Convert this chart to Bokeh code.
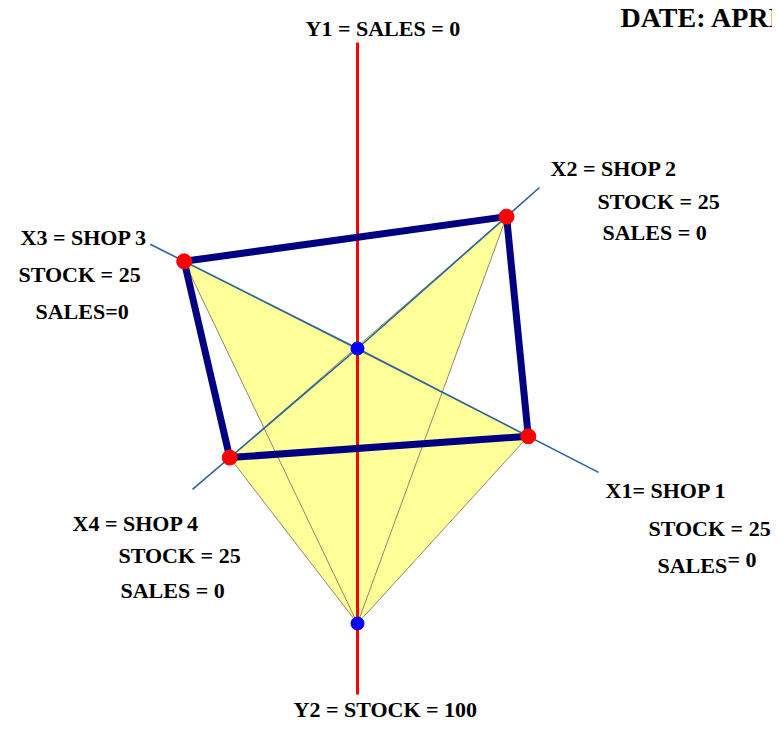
import numpy as np
from bokeh.plotting import figure
from bokeh.models import Range1d
from bokeh.core.properties import value
from bokeh.embed import file_html
from bokeh.resources import INLINE

# ---------------- data ----------------
axis_names = ["X1", "X2", "X3", "X4"]
shops = ["SHOP 1", "SHOP 2", "SHOP 3", "SHOP 4"]
stock = [25, 25, 25, 25]
sales = [0, 0, 0, 0]
y1_name, y1_value = "SALES", 0
y2_name, y2_value = "STOCK", 100
date_text = "DATE: APRIL"

# ---------------- layout ----------------
axis_angle = [-27.2, 41.5, 153.3, 220.5]   # degrees, shop axes
point_r = [192, 199, 194, 168]             # radius of each shop point
axis_end_r = [271, 243, 232, 217]          # length of each thin axis
y2_point_r = 275
y1_len, y2_len = 306, 346

ang = np.radians(axis_angle)
px = np.array(point_r) * np.cos(ang)
py = np.array(point_r) * np.sin(ang)
ex = np.array(axis_end_r) * np.cos(ang)
ey = np.array(axis_end_r) * np.sin(ang)
bx, by = 0.0, -float(y2_point_r)

p = figure(width=772, height=723, output_backend="svg", toolbar_location=None,
           x_range=Range1d(-357, 415), y_range=Range1d(-375, 348),
           x_axis_location=None, y_axis_location=None, min_border=0,
           background_fill_color="white", border_fill_color="white",
           outline_line_color=None)
p.xgrid.visible = False
p.ygrid.visible = False

# yellow triangles: (X3, X1, Y2) and (X2, X4, Y2)
tri_xs = [[px[2], px[0], bx], [px[1], px[3], bx]]
tri_ys = [[py[2], py[0], by], [py[1], py[3], by]]
p.patches(tri_xs, tri_ys, fill_color="#FFFF99", line_color=None)
for i in range(2):
    p.line(tri_xs[i] + [tri_xs[i][0]], tri_ys[i] + [tri_ys[i][0]],
           line_color="#8a8a70", line_width=1)

# thin blue axes
p.segment(x0=[0] * 4, y0=[0] * 4, x1=ex, y1=ey, line_color="#2a64a0", line_width=1.6)

# red vertical axis
p.segment(x0=[0], y0=[y1_len], x1=[0], y1=[-y2_len], line_color="#FF0000", line_width=3)

# navy quadrilateral X3 -> X2 -> X1 -> X4 -> X3
order = [2, 1, 0, 3, 2]
p.line(px[order], py[order], line_color="#000080", line_width=7, line_join="round")

# dots
p.scatter(px, py, size=15, fill_color="#FF0000", line_color="#FF0000")
p.scatter([0, bx], [0, by], size=13, fill_color="#0000FF", line_color="#0000FF")

# ---------------- labels ----------------
labels = [
    (f"Y1 =  {y1_name} = {y1_value}", -52, 320),
    (f"{axis_names[1]} = {shops[1]}", 193, 180),
    (f"STOCK = {stock[1]}", 240, 147),
    (f"SALES  = {sales[1]}", 245, 116),
    (f"{axis_names[2]} = {shops[2]}", -337, 111),
    (f"STOCK = {stock[2]}", -339, 74),
    (f"SALES={sales[2]}", -322, 37),
    (f"{axis_names[0]}= {shops[0]}", 248, -142),
    (f"STOCK = {stock[0]}", 291, -180),
    ("SALES", 300, -217),
    (f"= {sales[0]}", 370, -211),
    (f"{axis_names[3]} = {shops[3]}", -285, -175),
    (f"STOCK = {stock[3]}", -239, -207),
    (f"SALES  = {sales[3]}", -237, -242),
    (f"Y2 = {y2_name} = {y2_value}", -64, -361),
]
p.text(x=[l[1] for l in labels], y=[l[2] for l in labels], text=[l[0] for l in labels],
       text_font=value("Liberation Serif"), text_font_style="bold",
       text_font_size="22px", text_color="black",
       text_align="left", text_baseline="alphabetic")
p.text(x=[263], y=[331], text=[date_text],
       text_font=value("Liberation Serif"), text_font_style="bold",
       text_font_size="28px", text_color="black",
       text_align="left", text_baseline="alphabetic")

open("out.html", "w").write(file_html(p, INLINE))
